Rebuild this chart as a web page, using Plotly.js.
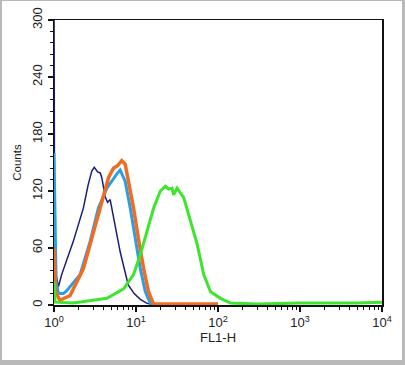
<!DOCTYPE html>
<html>
<head>
<meta charset="utf-8">
<script src="https://cdn.plot.ly/plotly-3.0.1.min.js"></script>
<style>
html,body{margin:0;padding:0;background:#fff;}
#frame{position:absolute;left:0;top:0;width:405px;height:365px;box-sizing:border-box;
  border-left:2px solid #b9b9b9;border-top:1px solid #b9b9b9;border-right:3px solid #b9b9b9;border-bottom:5px solid #b9b9b9;background:#fff;}
#chart{width:400px;height:359px;}
</style>
</head>
<body>
<div id="frame"><div id="chart"></div></div>
<script>
// FL1-H intensity (linear units) and counts
const navyX   = [1, 1.02, 1.13, 1.24, 1.72, 2.28, 2.6, 2.89, 3.1, 3.4, 3.66, 3.83, 4.21, 4.5, 4.84, 5.57, 6.41, 8.04, 9.5, 11.3, 13.5, 16.3, 25, 100];
const navyY   = [330, 40, 19, 32, 67, 102, 126, 141, 145, 140, 139, 134, 114, 108, 111, 85, 56, 21, 12, 6, 2, 0, 0, 0];

const blueX   = [1, 1.06, 1.13, 1.3, 1.43, 2.08, 2.76, 3.48, 4.41, 5.2, 5.85, 6.41, 7.39, 8.51, 9.79, 11.3, 13.0, 14.9, 17.2, 30];
const blueY   = [160, 25, 12, 12, 15, 32, 67, 102, 123, 132, 138, 142, 130, 102, 70, 38, 14, 2, 0, 0];

const orangeX = [1, 1.04, 1.18, 1.57, 2.28, 3.03, 3.83, 4.62, 5.31, 6.0, 6.41, 6.7, 7.39, 8.11, 9.33, 10.7, 12.4, 14.2, 16.4, 30, 100];
const orangeY = [60, 14, 5, 10, 38, 77, 109, 134, 144, 147, 150, 152, 148, 130, 102, 70, 38, 14, 1, 1, 1];

const greenX  = [1, 1.03, 1.72, 4.41, 7.05, 9.33, 11.3, 13.6, 16.4, 19.8, 22.8, 25, 27.5, 28.8, 31.7, 38.2, 46.1, 55.7, 67, 81, 107, 142, 300, 1000, 5000, 10000];
const greenY  = [25, 3, 2, 7, 17, 32, 53, 77, 102, 120, 125, 122, 123, 116, 123, 113, 88, 64, 32, 14, 7, 2, 1, 2, 2, 3];

const xTickVals = [1, 10, 100, 1000, 10000];
const xTickText = ['10<sup>0</sup>', '10<sup>1</sup>', '10<sup>2</sup>', '10<sup>3</sup>', '10<sup>4</sup>'];
const xMinorVals = [2,3,4,5,6,7,8,9,20,30,40,50,60,70,80,90,200,300,400,500,600,700,800,900,2000,3000,4000,5000,6000,7000,8000,9000];

const FONT = 'Liberation Sans, Arial, Helvetica, sans-serif';

const traces = [
  {x: navyX, y: navyY, mode: 'lines', line: {color: '#1c1c7c', width: 1.5}, hoverinfo: 'skip'},
  {x: blueX, y: blueY, mode: 'lines', line: {color: '#2c9fe4', width: 3}, hoverinfo: 'skip'},
  {x: orangeX, y: orangeY, mode: 'lines', line: {color: '#f06c22', width: 3.5}, hoverinfo: 'skip'},
  {x: greenX, y: greenY, mode: 'lines', line: {color: '#3de62c', width: 3}, hoverinfo: 'skip'}
];

const layout = {
  width: 400, height: 359,
  margin: {l: 52, r: 20, t: 19, b: 55},
  paper_bgcolor: '#fff', plot_bgcolor: '#fff',
  showlegend: false,
  font: {family: FONT, color: '#222', size: 12},
  xaxis: {
    type: 'log', range: [0, 4], showgrid: false, zeroline: false,
    showline: true, mirror: true, linecolor: '#111', linewidth: 1.5,
    tickmode: 'array', tickvals: xTickVals, ticktext: xTickText,
    ticks: 'outside', ticklen: 5, tickcolor: '#111', tickwidth: 1.5,
    minor: {tickmode: 'array', tickvals: xMinorVals, ticks: 'outside', ticklen: 3, tickcolor: '#111', tickwidth: 1, showgrid: false},
    tickfont: {family: FONT, size: 13, color: '#222'},
    title: {text: 'FL1-H', font: {family: FONT, size: 13, color: '#222'}, standoff: 2}
  },
  yaxis: {
    range: [0, 300], showgrid: false, zeroline: false,
    showline: true, mirror: true, linecolor: '#111', linewidth: 1.5,
    tickmode: 'linear', tick0: 0, dtick: 60,
    ticks: 'outside', ticklen: 5, tickcolor: '#111', tickwidth: 1.5,
    minor: {dtick: 12, ticks: 'outside', ticklen: 3, tickcolor: '#111', tickwidth: 1, showgrid: false},
    tickangle: -90,
    tickfont: {family: FONT, size: 13, color: '#222'},
    title: {text: 'Counts', font: {family: FONT, size: 11.5, color: '#222'}, standoff: 6}
  }
};

Plotly.newPlot('chart', traces, layout, {staticPlot: true, displayModeBar: false});
</script>
</body>
</html>
